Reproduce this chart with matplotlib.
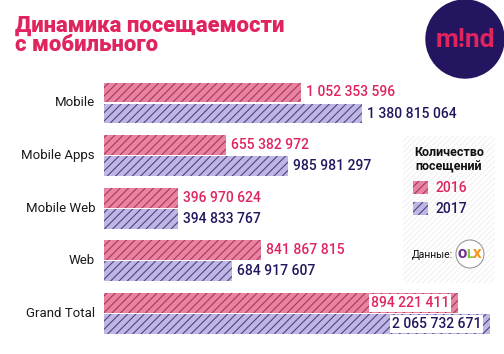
import matplotlib
matplotlib.use("Agg")
import matplotlib.pyplot as plt
from matplotlib.patches import Rectangle, Circle
import numpy as np

categories = ["Mobile", "Mobile Apps", "Mobile Web", "Web", "Grand Total"]
visits_2016 = [1052353596, 655382972, 396970624, 841867815, 1894221411]
visits_2017 = [1380815064, 985981297, 394833767, 684917607, 2065732671]
labels_2016 = ["1 052 353 596", "655 382 972", "396 970 624", "841 867 815", "894 221 411"]
labels_2017 = ["1 380 815 064", "985 981 297", "394 833 767", "684 917 607", "2 065 732 671"]
series_names = ["2016", "2017"]

PINK = "#e0245e"
NAVY = "#24165e"
PINK_FILL = "#e8849f"
PINK_HATCH = "#a8365f"
PURP_FILL = "#bfb6e3"
PURP_HATCH = "#504288"

W, H = 504, 354
fig = plt.figure(figsize=(W / 100, H / 100), dpi=100)
FONT = "Roboto"
plt.rcParams["font.family"] = [FONT, "DejaVu Sans"]
plt.rcParams["hatch.linewidth"] = 0.8
HATCH = "////"

def fx(px):
    return px / W

def fy(py):
    return 1 - py / H

# Axes placement
left_px, right_px = 104, 500
scale = 0.1869e-6  # px per visit
xmax = (right_px - left_px) / scale
top_px = 103 - 0.6 * 52.6
bot_px = top_px + 5.2 * 52.6
ax = fig.add_axes([fx(left_px), fy(bot_px), fx(right_px - left_px), (bot_px - top_px) / H])
ax.set_xlim(0, xmax)
ax.set_ylim(4.6, -0.6)
ax.axis("off")

y = np.arange(len(categories))
bh = 0.375
off = 0.2
ax.barh(y - off, visits_2016, height=bh, color=PINK_FILL, edgecolor=PINK_HATCH,
        hatch=HATCH, linewidth=0)
ax.barh(y + off, visits_2017, height=bh, color=PURP_FILL, edgecolor=PURP_HATCH,
        hatch=HATCH, linewidth=0)

px_per_unit = (right_px - left_px) / xmax
for i, cat in enumerate(categories):
    ax.text(-9 / px_per_unit, i, cat, ha="right", va="center", fontsize=9.5,
            color="#1a1a1a", clip_on=False)
    if cat == "Grand Total":
        ax.text(visits_2016[i] - 9 / px_per_unit, i - off, labels_2016[i], ha="right",
                va="center", fontsize=10, color=PINK, fontweight="medium",
                bbox=dict(facecolor="white", edgecolor="none", pad=1.5))
        ax.text(visits_2017[i] - 9 / px_per_unit, i + off, labels_2017[i], ha="right",
                va="center", fontsize=10, color=NAVY, fontweight="medium",
                bbox=dict(facecolor="white", edgecolor="none", pad=1.5))
    else:
        ax.text(visits_2016[i] + 5 / px_per_unit, i - off, labels_2016[i], ha="left",
                va="center", fontsize=10, color=PINK, fontweight="medium")
        ax.text(visits_2017[i] + 5 / px_per_unit, i + off, labels_2017[i], ha="left",
                va="center", fontsize=10, color=NAVY, fontweight="medium")

# Title (single text block with tight leading)
fig.text(fx(15), fy(15), "Динамика посещаемости\nс мобильного", fontsize=15.8,
         fontweight="black", color=PINK, ha="left", va="top", linespacing=0.82)

# Mind logo
logo = fig.add_axes([0, 0, 1, 1], facecolor="none")
logo.set_xlim(0, W)
logo.set_ylim(H, 0)
logo.axis("off")
logo.add_patch(Circle((465, 39), 39, color="#25145f", zorder=1))
logo.text(465, 40, "m!nd", fontsize=19, fontweight="bold", color=PINK,
          ha="center", va="center", zorder=2)

# Legend panel
logo.add_patch(Rectangle((403, 136), 92, 147, facecolor="white", edgecolor="#f1f1f1",
                         hatch="//////", linewidth=0, zorder=0))
logo.text(449, 160, "Количество\nпосещений", fontsize=9, fontweight="bold",
          color="#111111", ha="center", va="center", linespacing=1.15, zorder=2)
logo.add_patch(Rectangle((413, 181), 15, 13, facecolor=PINK_FILL, edgecolor=PINK_HATCH,
                         hatch=HATCH, linewidth=0, zorder=2))
logo.add_patch(Rectangle((413, 202), 15, 13, facecolor=PURP_FILL, edgecolor=PURP_HATCH,
                         hatch=HATCH, linewidth=0, zorder=2))
logo.text(436, 188, series_names[0], fontsize=10, color=PINK, ha="left", va="center",
          fontweight="medium", zorder=2)
logo.text(436, 209, series_names[1], fontsize=10, color=NAVY, ha="left", va="center",
          fontweight="medium", zorder=2)
logo.text(412, 255, "Данные:", fontsize=7.5, color="#111111", ha="left", va="center",
          zorder=2)
logo.add_patch(Circle((470, 254), 14, facecolor="white", edgecolor="#9a9a9a",
                      linewidth=0.8, zorder=2))
logo.text(462, 255, "O", fontsize=9.5, fontweight="black", color="#6a2c91", ha="center",
          va="center", zorder=3)
logo.text(469.5, 255, "L", fontsize=9.5, fontweight="black", color="#8cc63f", ha="center",
          va="center", zorder=3)
logo.text(477, 255, "X", fontsize=9.5, fontweight="black", color="#f7941d", ha="center",
          va="center", zorder=3)

fig.savefig("out.png", dpi=100, facecolor="white")
